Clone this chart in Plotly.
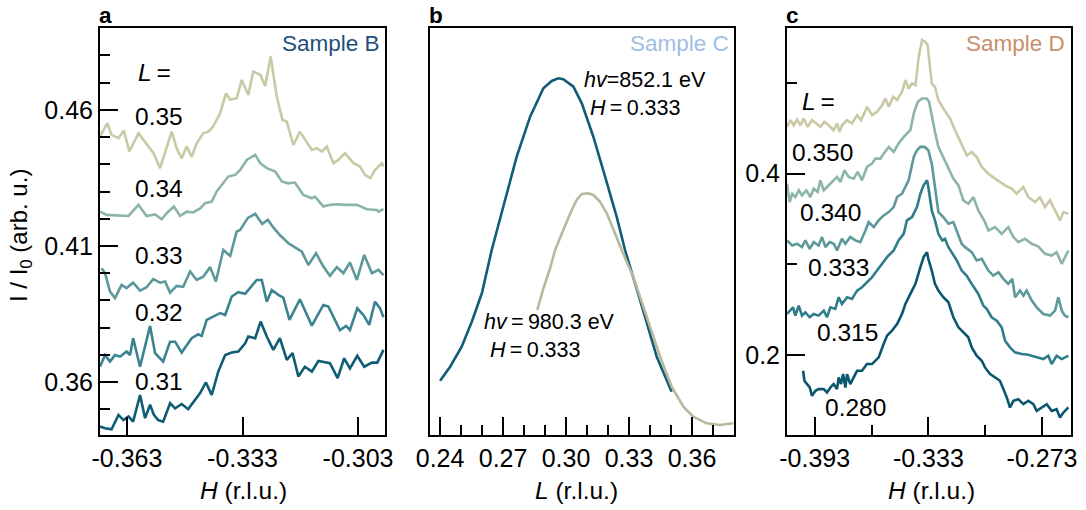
import plotly.graph_objects as go

W, H = 1086, 510

# ---------------- Panel a : Sample B, H scans at several L ----------------
a_L_labels = ["0.35", "0.34", "0.33", "0.32", "0.31"]
a_colors = ["#c9c9a6", "#8db4aa", "#5d999b", "#3a8490", "#0e5d74"]

a_L035 = [(-0.3700,0.4502),(-0.3681,0.4551),(-0.3670,0.4508),(-0.3652,0.4496),(-0.3638,0.4524),
          (-0.3624,0.4447),(-0.3600,0.4514),(-0.3579,0.4477),(-0.3561,0.4441),(-0.3544,0.4386),
          (-0.3527,0.4465),(-0.3514,0.4520),(-0.3501,0.4459),(-0.3488,0.4422),(-0.3475,0.4465),
          (-0.3462,0.4428),(-0.3449,0.4477),(-0.3432,0.4514),(-0.3419,0.4520),(-0.3406,0.4539),
          (-0.3388,0.4588),(-0.3373,0.4661),(-0.3362,0.4637),(-0.3345,0.4643),(-0.3332,0.4710),
          (-0.3315,0.4655),(-0.3302,0.4741),(-0.3284,0.4729),(-0.3271,0.4688),(-0.3257,0.4796),
          (-0.3241,0.4649),(-0.3226,0.4563),(-0.3215,0.4557),(-0.3198,0.4471),(-0.3181,0.4520),
          (-0.3168,0.4490),(-0.3150,0.4453),(-0.3137,0.4459),(-0.3124,0.4447),(-0.3111,0.4465),
          (-0.3094,0.4404),(-0.3081,0.4416),(-0.3064,0.4441),(-0.3042,0.4404),(-0.3025,0.4392),
          (-0.3012,0.4361),(-0.2998,0.4349),(-0.2986,0.4379),(-0.2968,0.4404),(-0.2964,0.4392)]

a_L034 = [(-0.3700,0.4226),(-0.3683,0.4214),(-0.3626,0.4210),(-0.3600,0.4251),(-0.3579,0.4210),
          (-0.3557,0.4216),(-0.3540,0.4198),(-0.3527,0.4220),(-0.3508,0.4245),(-0.3492,0.4210),
          (-0.3475,0.4226),(-0.3458,0.4223),(-0.3440,0.4238),(-0.3427,0.4257),(-0.3410,0.4263),
          (-0.3397,0.4300),(-0.3384,0.4324),(-0.3367,0.4355),(-0.3349,0.4361),(-0.3336,0.4379),
          (-0.3319,0.4416),(-0.3297,0.4435),(-0.3284,0.4404),(-0.3267,0.4386),(-0.3245,0.4373),
          (-0.3228,0.4337),(-0.3211,0.4330),(-0.3194,0.4333),(-0.3172,0.4287),(-0.3150,0.4275),
          (-0.3142,0.4281),(-0.3120,0.4245),(-0.3103,0.4251),(-0.3085,0.4253),(-0.3059,0.4251),
          (-0.3033,0.4251),(-0.3007,0.4235),(-0.2981,0.4232),(-0.2977,0.4226),(-0.2964,0.4235)]

a_L033 = [(-0.3696,0.4018),(-0.3687,0.4000),(-0.3674,0.3932),(-0.3661,0.3908),(-0.3644,0.3957),
          (-0.3631,0.3945),(-0.3614,0.3965),(-0.3596,0.3936),(-0.3579,0.3948),(-0.3562,0.3978),
          (-0.3544,0.3965),(-0.3531,0.3969),(-0.3518,0.3928),(-0.3501,0.3953),(-0.3484,0.3950),
          (-0.3466,0.4006),(-0.3449,0.3975),(-0.3432,0.3987),(-0.3414,0.4022),(-0.3399,0.3969),
          (-0.3380,0.4085),(-0.3362,0.4063),(-0.3345,0.4153),(-0.3336,0.4159),(-0.3316,0.4203),
          (-0.3297,0.4218),(-0.3279,0.4181),(-0.3264,0.4196),(-0.3251,0.4170),(-0.3233,0.4140),
          (-0.3211,0.4110),(-0.3176,0.4079),(-0.3159,0.4030),(-0.3139,0.4073),(-0.3120,0.4024),
          (-0.3103,0.3990),(-0.3085,0.4022),(-0.3068,0.4000),(-0.3051,0.4039),(-0.3033,0.3975),
          (-0.3014,0.4067),(-0.2994,0.4000),(-0.2977,0.4012),(-0.2964,0.3993)]

a_L032 = [(-0.3700,0.3656),(-0.3687,0.3699),(-0.3674,0.3675),(-0.3661,0.3699),(-0.3648,0.3693),
          (-0.3631,0.3712),(-0.3622,0.3699),(-0.3614,0.3761),(-0.3596,0.3656),(-0.3570,0.3806),
          (-0.3557,0.3706),(-0.3536,0.3675),(-0.3518,0.3748),(-0.3505,0.3748),(-0.3488,0.3708),
          (-0.3462,0.3761),(-0.3445,0.3775),(-0.3436,0.3769),(-0.3423,0.3828),(-0.3401,0.3843),
          (-0.3388,0.3853),(-0.3375,0.3846),(-0.3358,0.3914),(-0.3341,0.3930),(-0.3323,0.3924),
          (-0.3293,0.3975),(-0.3280,0.3975),(-0.3267,0.3895),(-0.3254,0.3938),(-0.3237,0.3920),
          (-0.3224,0.3910),(-0.3208,0.3828),(-0.3181,0.3904),(-0.3150,0.3807),(-0.3120,0.3883),
          (-0.3107,0.3877),(-0.3077,0.3791),(-0.3061,0.3806),(-0.3051,0.3791),(-0.3032,0.3871),
          (-0.3016,0.3846),(-0.3001,0.3810),(-0.2986,0.3895),(-0.2973,0.3871),(-0.2964,0.3838)]

a_L031 = [(-0.3700,0.3436),(-0.3687,0.3430),(-0.3670,0.3426),(-0.3652,0.3479),(-0.3639,0.3460),
          (-0.3626,0.3473),(-0.3614,0.3454),(-0.3596,0.3552),(-0.3583,0.3467),(-0.3570,0.3516),
          (-0.3560,0.3479),(-0.3549,0.3460),(-0.3536,0.3454),(-0.3518,0.3522),(-0.3505,0.3503),
          (-0.3488,0.3519),(-0.3471,0.3500),(-0.3453,0.3534),(-0.3440,0.3559),(-0.3425,0.3598),
          (-0.3410,0.3552),(-0.3393,0.3638),(-0.3375,0.3699),(-0.3358,0.3708),(-0.3341,0.3712),
          (-0.3323,0.3742),(-0.3315,0.3767),(-0.3297,0.3761),(-0.3283,0.3822),(-0.3267,0.3767),
          (-0.3250,0.3718),(-0.3233,0.3761),(-0.3215,0.3681),(-0.3200,0.3706),(-0.3185,0.3620),
          (-0.3168,0.3656),(-0.3150,0.3638),(-0.3133,0.3677),(-0.3103,0.3669),(-0.3083,0.3614),
          (-0.3066,0.3687),(-0.3051,0.3650),(-0.3032,0.3696),(-0.3014,0.3656),(-0.2994,0.3671),
          (-0.2980,0.3671),(-0.2964,0.3718)]

a_series = [a_L035, a_L034, a_L033, a_L032, a_L031]
a_yticks = [0.36, 0.41, 0.46]
a_xticks = [-0.363, -0.333, -0.303]

# ---------------- Panel b : Sample C, L scans at two photon energies ----------------
b_labels = ["<i>hv</i>=852.1 eV<br>\u00a0<i>H</i>\u2009=\u20090.333",
            "<i>hv</i>\u2009=\u2009980.3 eV<br>\u00a0<i>H</i>\u2009=\u20090.333"]
b_colors = ["#115c76", "#b8b8a0"]
b_852 = [(0.2400,0.1334),(0.2448,0.1678),(0.2503,0.2170),(0.2551,0.2784),(0.2599,0.3482),
         (0.2646,0.4545),(0.2701,0.5609),(0.2765,0.6838),(0.2829,0.7821),(0.2892,0.8518),
         (0.2932,0.8698),(0.2963,0.8764),(0.2987,0.8740),(0.3035,0.8558),(0.3075,0.8150),
         (0.3130,0.7329),(0.3186,0.6346),(0.3241,0.5364),(0.3281,0.4545),(0.3320,0.3850),
         (0.3376,0.2907),(0.3432,0.1924),(0.3503,0.1064)]
b_980 = [(0.2863,0.3071),(0.2892,0.3604),(0.2924,0.4096),(0.2948,0.4545),(0.2987,0.5037),
         (0.3027,0.5528),(0.3051,0.5774),(0.3075,0.5921),(0.3106,0.5939),(0.3130,0.5897),
         (0.3162,0.5732),(0.3194,0.5447),(0.3233,0.4956),(0.3265,0.4545),(0.3320,0.3889),
         (0.3384,0.2907),(0.3448,0.1924),(0.3503,0.1187),(0.3559,0.0695),(0.3606,0.0450),
         (0.3670,0.0287),(0.3733,0.0246),(0.3797,0.0287)]
b_series = [b_852, b_980]
b_xticks = [0.24, 0.27, 0.30, 0.33, 0.36]

# ---------------- Panel c : Sample D, H scans at several L ----------------
c_L_labels = ["0.350", "0.340", "0.333", "0.315", "0.280"]
c_colors = ["#c9c9a6", "#8db4aa", "#5d999b", "#2f7c8a", "#0b566f"]

c_L0350 = [(-0.4076,0.4516),(-0.4058,0.4590),(-0.4041,0.4534),(-0.4023,0.4597),(-0.4005,0.4534),
           (-0.3988,0.4608),(-0.3967,0.4516),(-0.3944,0.4590),(-0.3921,0.4553),(-0.3900,0.4516),
           (-0.3879,0.4571),(-0.3856,0.4534),(-0.3830,0.4479),(-0.3812,0.4553),(-0.3798,0.4461),
           (-0.3786,0.4534),(-0.3759,0.4590),(-0.3733,0.4553),(-0.3706,0.4645),(-0.3685,0.4590),
           (-0.3653,0.4737),(-0.3627,0.4645),(-0.3601,0.4682),(-0.3574,0.4755),(-0.3557,0.4829),
           (-0.3539,0.4737),(-0.3516,0.4847),(-0.3495,0.4811),(-0.3469,0.4903),(-0.3451,0.5032),
           (-0.3434,0.4939),(-0.3416,0.4995),(-0.3398,0.4976),(-0.3381,0.5288),(-0.3363,0.5474),
           (-0.3347,0.5454),(-0.3334,0.5418),(-0.3312,0.4995),(-0.3295,0.4958),(-0.3277,0.4811),
           (-0.3251,0.4719),(-0.3215,0.4608),(-0.3189,0.4479),(-0.3163,0.4369),(-0.3127,0.4203),
           (-0.3101,0.4240),(-0.3075,0.4184),(-0.3048,0.4074),(-0.3013,0.4000),(-0.2978,0.3945),
           (-0.2952,0.3908),(-0.2925,0.3871),(-0.2890,0.3835),(-0.2864,0.3779),(-0.2829,0.3853),
           (-0.2802,0.3742),(-0.2767,0.3687),(-0.2741,0.3742),(-0.2714,0.3632),(-0.2688,0.3706),
           (-0.2661,0.3595),(-0.2635,0.3485),(-0.2617,0.3577),(-0.2591,0.3558)]

c_L0340 = [(-0.4076,0.3890),(-0.4062,0.3687),(-0.4049,0.3779),(-0.4032,0.3743),(-0.4014,0.3816),
           (-0.3997,0.3761),(-0.3974,0.3816),(-0.3953,0.3743),(-0.3935,0.3835),(-0.3914,0.3798),
           (-0.3900,0.3927),(-0.3882,0.3816),(-0.3865,0.3853),(-0.3838,0.3908),(-0.3812,0.3964),
           (-0.3794,0.3908),(-0.3773,0.4037),(-0.3750,0.3964),(-0.3724,0.3945),(-0.3703,0.4019),
           (-0.3680,0.3927),(-0.3654,0.4074),(-0.3627,0.4111),(-0.3610,0.4166),(-0.3583,0.4166),
           (-0.3566,0.4221),(-0.3539,0.4295),(-0.3513,0.4240),(-0.3487,0.4332),(-0.3460,0.4405),
           (-0.3443,0.4442),(-0.3425,0.4479),(-0.3407,0.4663),(-0.3386,0.4792),(-0.3363,0.4829),
           (-0.3339,0.4829),(-0.3326,0.4792),(-0.3312,0.4626),(-0.3295,0.4461),(-0.3277,0.4295),
           (-0.3251,0.4184),(-0.3224,0.4074),(-0.3198,0.3945),(-0.3171,0.3871),(-0.3145,0.3706),
           (-0.3119,0.3669),(-0.3092,0.3742),(-0.3066,0.3595),(-0.3031,0.3466),(-0.3013,0.3374),
           (-0.2978,0.3411),(-0.2943,0.3337),(-0.2908,0.3411),(-0.2881,0.3301),(-0.2855,0.3245),
           (-0.2820,0.3282),(-0.2784,0.3227),(-0.2749,0.3197),(-0.2714,0.3116),(-0.2679,0.3098),
           (-0.2653,0.3135),(-0.2626,0.3006),(-0.2609,0.3080),(-0.2591,0.3153)]

c_L0333 = [(-0.4076,0.3264),(-0.4049,0.3208),(-0.4023,0.3227),(-0.3997,0.3190),(-0.3979,0.3264),
           (-0.3956,0.3172),(-0.3935,0.3245),(-0.3909,0.3208),(-0.3891,0.3301),(-0.3873,0.3190),
           (-0.3851,0.3245),(-0.3829,0.3227),(-0.3812,0.3153),(-0.3786,0.3282),(-0.3768,0.3227),
           (-0.3742,0.3301),(-0.3715,0.3264),(-0.3689,0.3245),(-0.3662,0.3374),(-0.3645,0.3466),
           (-0.3618,0.3411),(-0.3592,0.3485),(-0.3566,0.3540),(-0.3539,0.3577),(-0.3513,0.3632),
           (-0.3495,0.3743),(-0.3469,0.3779),(-0.3451,0.3853),(-0.3434,0.3927),(-0.3407,0.4184),
           (-0.3390,0.4258),(-0.3372,0.4295),(-0.3350,0.4295),(-0.3330,0.4258),(-0.3312,0.4111),
           (-0.3295,0.3853),(-0.3277,0.3577),(-0.3251,0.3522),(-0.3224,0.3448),(-0.3198,0.3466),
           (-0.3180,0.3374),(-0.3154,0.3227),(-0.3136,0.3190),(-0.3101,0.3135),(-0.3075,0.3043),
           (-0.3048,0.3061),(-0.3013,0.2932),(-0.2987,0.2877),(-0.2960,0.2914),(-0.2934,0.2840),
           (-0.2908,0.2785),(-0.2887,0.2840),(-0.2872,0.2638),(-0.2846,0.2711),(-0.2828,0.2656),
           (-0.2811,0.2711),(-0.2784,0.2601),(-0.2758,0.2527),(-0.2723,0.2453),(-0.2688,0.2435),
           (-0.2661,0.2490),(-0.2644,0.2638),(-0.2626,0.2490),(-0.2609,0.2435),(-0.2591,0.2417)]

c_L0315 = [(-0.4076,0.2454),(-0.4058,0.2490),(-0.4044,0.2527),(-0.4032,0.2435),(-0.4014,0.2546),
           (-0.3997,0.2435),(-0.3979,0.2472),(-0.3956,0.2417),(-0.3935,0.2454),(-0.3909,0.2435),
           (-0.3882,0.2490),(-0.3865,0.2417),(-0.3847,0.2527),(-0.3821,0.2509),(-0.3803,0.2638),
           (-0.3786,0.2564),(-0.3759,0.2638),(-0.3733,0.2619),(-0.3706,0.2711),(-0.3680,0.2748),
           (-0.3654,0.2803),(-0.3627,0.2859),(-0.3601,0.2932),(-0.3574,0.3006),(-0.3548,0.3080),
           (-0.3513,0.3153),(-0.3487,0.3264),(-0.3460,0.3337),(-0.3443,0.3485),(-0.3416,0.3522),
           (-0.3390,0.3632),(-0.3372,0.3779),(-0.3355,0.3871),(-0.3337,0.3927),(-0.3330,0.3853),
           (-0.3312,0.3595),(-0.3295,0.3485),(-0.3277,0.3337),(-0.3256,0.3264),(-0.3242,0.3282),
           (-0.3224,0.3190),(-0.3207,0.3135),(-0.3180,0.3043),(-0.3154,0.2932),(-0.3128,0.2877),
           (-0.3101,0.2785),(-0.3066,0.2674),(-0.3040,0.2546),(-0.3022,0.2509),(-0.2996,0.2417),
           (-0.2969,0.2380),(-0.2943,0.2306),(-0.2925,0.2159),(-0.2899,0.2085),(-0.2873,0.2030),
           (-0.2837,0.2011),(-0.2802,0.2004),(-0.2767,0.1982),(-0.2723,0.1956),(-0.2697,0.1993),
           (-0.2679,0.1901),(-0.2653,0.1993),(-0.2626,0.1956),(-0.2600,0.1982),(-0.2591,0.1993)]

c_L0280 = [(-0.3991,0.1827),(-0.3984,0.1717),(-0.3970,0.1680),(-0.3956,0.1643),(-0.3944,0.1551),
           (-0.3926,0.1606),(-0.3909,0.1625),(-0.3882,0.1625),(-0.3865,0.1588),(-0.3847,0.1643),
           (-0.3830,0.1680),(-0.3812,0.1625),(-0.3803,0.1754),(-0.3791,0.1680),(-0.3780,0.1791),
           (-0.3768,0.1643),(-0.3759,0.1791),(-0.3742,0.1680),(-0.3724,0.1754),(-0.3706,0.1827),
           (-0.3680,0.1827),(-0.3654,0.1901),(-0.3627,0.1901),(-0.3610,0.1938),(-0.3592,0.1975),
           (-0.3566,0.2122),(-0.3548,0.2214),(-0.3522,0.2269),(-0.3495,0.2343),(-0.3469,0.2454),
           (-0.3451,0.2564),(-0.3425,0.2674),(-0.3398,0.2785),(-0.3372,0.2969),(-0.3355,0.3080),
           (-0.3337,0.3135),(-0.3330,0.3061),(-0.3312,0.2932),(-0.3295,0.2785),(-0.3277,0.2711),
           (-0.3251,0.2638),(-0.3224,0.2582),(-0.3198,0.2417),(-0.3171,0.2306),(-0.3145,0.2251),
           (-0.3119,0.2196),(-0.3101,0.2085),(-0.3075,0.1993),(-0.3048,0.1938),(-0.3031,0.1864),
           (-0.3004,0.1791),(-0.2978,0.1754),(-0.2952,0.1717),(-0.2934,0.1625),(-0.2916,0.1533),
           (-0.2899,0.1422),(-0.2881,0.1496),(-0.2855,0.1514),(-0.2828,0.1459),(-0.2802,0.1496),
           (-0.2776,0.1459),(-0.2758,0.1385),(-0.2732,0.1422),(-0.2705,0.1459),(-0.2679,0.1385),
           (-0.2653,0.1404),(-0.2635,0.1312),(-0.2617,0.1367),(-0.2600,0.1404),(-0.2591,0.1422)]

c_series = [c_L0350, c_L0340, c_L0333, c_L0315, c_L0280]
c_xticks = [-0.393, -0.333, -0.273]
c_yticks = [0.2, 0.4]

# ---------------- figure ----------------
FONT = "Arial, Liberation Sans, Helvetica, sans-serif"
TICK_FS = 25
LAB_FS = 24.5
fig = go.Figure()

def add_series(series, colors, xa, ya):
    for pts, col in zip(series, colors):
        fig.add_trace(go.Scatter(x=[p[0] for p in pts], y=[p[1] for p in pts],
                                 mode="lines", line=dict(color=col, width=2.6),
                                 xaxis=xa, yaxis=ya, showlegend=False, hoverinfo="skip"))

add_series(a_series, a_colors, "x", "y")
add_series(b_series, b_colors, "x2", "y2")
add_series(c_series, c_colors, "x3", "y3")

def xd(px0, px1):
    return [px0 / W, px1 / W]

ydom = [1 - 435 / H, 1 - 28 / H]
axcommon = dict(showline=True, linecolor="black", linewidth=2, mirror=True, automargin=False,
                showgrid=False, zeroline=False, ticks="inside", tickcolor="black",
                tickwidth=2, ticklen=18, tickfont=dict(size=TICK_FS, family=FONT, color="black"))

fig.update_layout(
    template="none",
    width=W, height=H, margin=dict(l=0, r=0, t=0, b=0, pad=0),
    paper_bgcolor="white", plot_bgcolor="white",
    font=dict(family=FONT, color="black"),
    xaxis=dict(domain=xd(100, 385), range=[-0.370, -0.296], anchor="y",
               tickvals=a_xticks, ticktext=[f"{v:.3f}" for v in a_xticks], **axcommon),
    yaxis=dict(domain=ydom, range=[0.3405, 0.4901], anchor="x",
               tickvals=a_yticks, ticktext=[f"{v:.2f}" for v in a_yticks],
               minor=dict(dtick=0.01, tick0=0.36, ticks="inside", ticklen=10,
                          tickwidth=2, tickcolor="black"), **axcommon),
    xaxis2=dict(domain=xd(430, 734), range=[0.2352, 0.380], anchor="y2",
                tickvals=b_xticks, ticktext=[f"{v:.2f}" for v in b_xticks],
                minor=dict(dtick=0.01, tick0=0.24, ticks="inside", ticklen=10,
                           tickwidth=2, tickcolor="black"), **axcommon),
    yaxis2=dict(domain=ydom, range=[0, 1], anchor="x2", showline=True, linecolor="black",
                linewidth=2, mirror=True, showgrid=False, zeroline=False, automargin=False,
                showticklabels=False, ticks=""),
    xaxis3=dict(domain=xd(787, 1071), range=[-0.4076, -0.2577], anchor="y3",
                tickvals=c_xticks, ticktext=[f"{v:.3f}" for v in c_xticks],
                minor=dict(tickvals=[-0.363, -0.303], ticks="inside", ticklen=10,
                           tickwidth=2, tickcolor="black"), **axcommon),
    yaxis3=dict(domain=ydom, range=[0.1119, 0.5606], anchor="x3",
                tickvals=c_yticks, ticktext=[f"{v:.1f}" for v in c_yticks],
                minor=dict(tickvals=[0.3, 0.5], ticks="inside", ticklen=10,
                           tickwidth=2, tickcolor="black"), **axcommon),
)

anns = []
def ann(text, px, py, xanchor="left", size=LAB_FS, color="black", bold=False, **kw):
    if bold:
        text = f"<b>{text}</b>"
    anns.append(dict(text=text, x=px / W, y=1 - py / H,
                     xref="paper", yref="paper",
                     xanchor=xanchor, yanchor="middle", showarrow=False,
                     font=dict(size=size, color=color, family=FONT), **kw))

# panel letters
ann("a", 97, 15, bold=True, size=22.5)
ann("b", 427, 15, bold=True, size=22.5)
ann("c", 784, 15, bold=True, size=22.5)
# sample names
ann("Sample B", 382, 43, xanchor="right", size=22.5, color="#1e4e7b")
ann("Sample C", 731, 43, xanchor="right", size=22.5, color="#9fbde6")
ann("Sample D", 1067, 43, xanchor="right", size=22.5, color="#c98e6b")
# axis titles
ann("I / I<sub>0</sub> (arb. u.)", 20, 236, xanchor="center", size=24, textangle=-90)
ann("<i>H</i> (r.l.u.)", 243, 490, xanchor="center")
ann("<i>L</i> (r.l.u.)", 576, 490, xanchor="center")
ann("<i>H</i> (r.l.u.)", 931, 490, xanchor="center")
# panel a labels
ann("<i>L</i>\u2009=", 136, 73)
for lab, py in zip(a_L_labels, [117, 188, 255, 312, 381]):
    ann(lab, 133, py)
# panel b labels (two lines each)
ann(b_labels[0], 582, 94, size=21.5, align="left")
ann(b_labels[1], 482, 336, size=21.5, align="left")
# panel c labels
ann("<i>L</i>\u2009=", 800, 102)
for lab, px, py in zip(c_L_labels, [790, 798, 806, 815, 823], [152, 212, 267, 332, 407]):
    ann(lab, px, py)

fig.update_layout(annotations=anns)
fig.write_html(
    "out.html",
    config={"displayModeBar": False, "staticPlot": True},
    post_script="document.body.style.margin='0px';"
                "document.documentElement.style.overflow='hidden';",
)
